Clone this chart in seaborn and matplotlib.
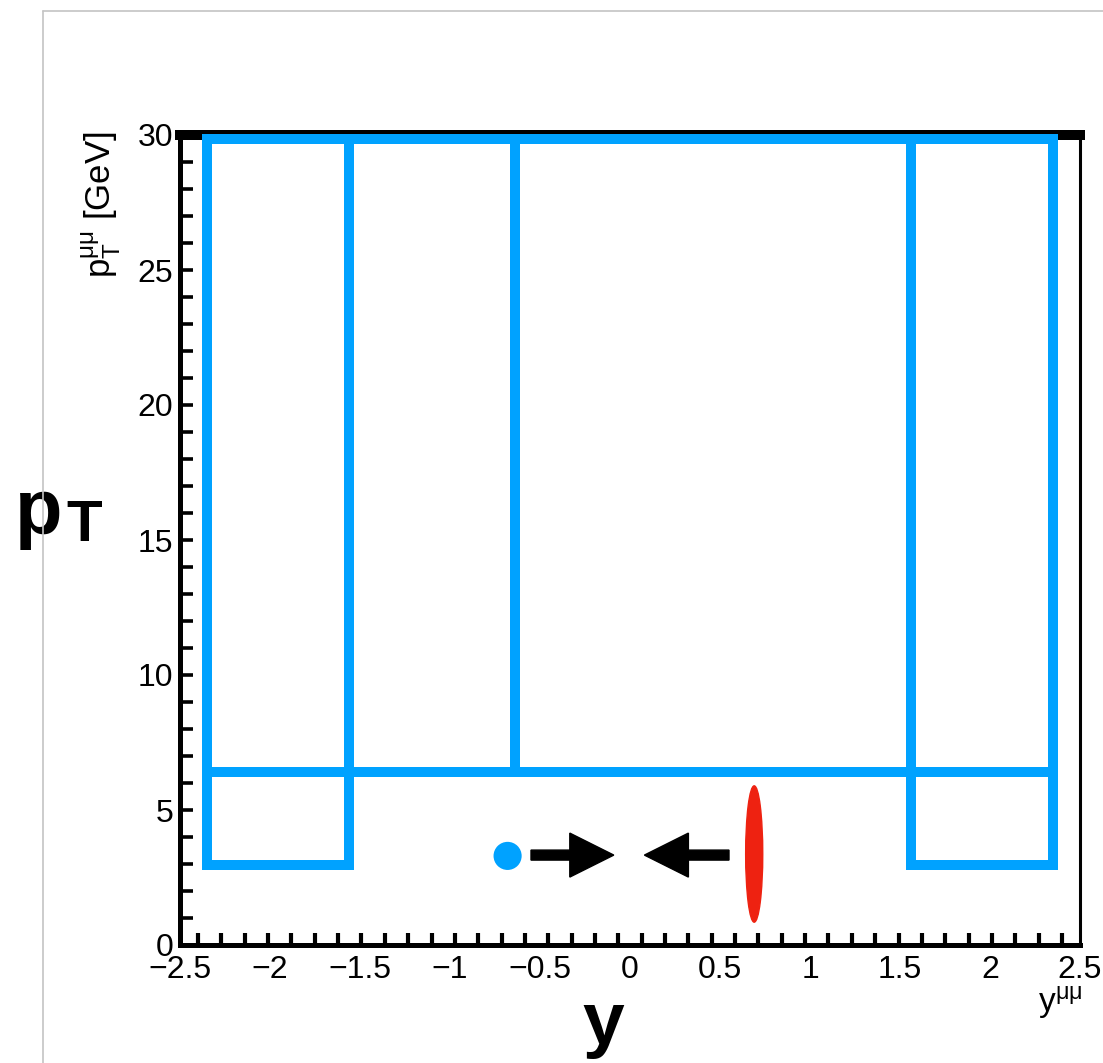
import numpy as np
import pandas as pd
import matplotlib
matplotlib.use("Agg")
import matplotlib.pyplot as plt
from matplotlib.patches import Rectangle, Ellipse, FancyArrow
from matplotlib.lines import Line2D
import seaborn as sns

# Analysis bins in (rapidity, transverse momentum)
cell_y_lo = [-2.35, 1.56, -2.35, -1.56, -0.64, 1.56]
cell_y_hi = [-1.56, 2.35, -1.56, -0.64, 1.56, 2.35]
cell_pt_lo = [2.95, 2.95, 6.4, 6.4, 6.4, 6.4]
cell_pt_hi = [6.4, 6.4, 29.85, 29.85, 29.85, 29.85]

# Collision sketch: projectile, arrows and Lorentz-contracted target
dot_y = [-0.68]
dot_pt = [3.3]
arrow_start = [-0.55, 0.55]
arrow_end = [-0.09, 0.08]
arrow_pt = 3.33
ellipse_center = (0.69, 3.37)
ellipse_size = (0.095, 5.05)

x_ticks = [-2.5, -2, -1.5, -1, -0.5, 0, 0.5, 1, 1.5, 2, 2.5]
x_ticklabels = ["\u22122.5", "\u22122", "\u22121.5", "\u22121", "\u22120.5", "0", "0.5", "1", "1.5", "2", "2.5"]
y_ticks = [0, 5, 10, 15, 20, 25, 30]

BLUE = "#00A2FF"
RED = "#EE2211"

sns.set_theme(style="white")
plt.rcParams["font.family"] = ["Liberation Sans", "DejaVu Sans"]
plt.rcParams["mathtext.fontset"] = "custom"
plt.rcParams["mathtext.rm"] = "Liberation Sans"
plt.rcParams["mathtext.it"] = "Liberation Sans"
plt.rcParams["mathtext.bf"] = "Liberation Sans:bold"

W, H = 1103, 1063
fig = plt.figure(figsize=(W / 100, H / 100), dpi=100)
fig.patch.set_facecolor("white")
ax = fig.add_axes([180 / W, 1 - 945 / H, 900 / W, 810 / H])
ax.set_facecolor("white")

ax.set_xlim(-2.5, 2.5)
ax.set_ylim(0, 30)

# Bin outlines
for x0, x1, p0, p1 in zip(cell_y_lo, cell_y_hi, cell_pt_lo, cell_pt_hi):
    ax.add_patch(Rectangle((x0, p0), x1 - x0, p1 - p0, fill=False,
                           edgecolor=BLUE, linewidth=7.2, joinstyle="miter",
                           zorder=3, clip_on=False))

# Incoming particle
pts = pd.DataFrame({"y": dot_y, "pt": dot_pt})
sns.scatterplot(data=pts, x="y", y="pt", s=410, color=BLUE, edgecolor="none",
                ax=ax, zorder=4, legend=False)

# Arrows pointing towards each other (sizes given in pixels, converted to data units)
px_x = 900 / 5.0
px_y = 810 / 30.0
for xs, xe in zip(arrow_start, arrow_end):
    ax.add_patch(FancyArrow(xs, arrow_pt, xe - xs, 0,
                            width=10 / px_y, head_width=44 / px_y,
                            head_length=44 / px_x, length_includes_head=True,
                            color="black", zorder=4))

# Nucleus
ax.add_patch(Ellipse(ellipse_center, ellipse_size[0], ellipse_size[1],
                     color=RED, zorder=4))

# Axes styling
ax.set_xticks(x_ticks)
ax.set_xticklabels(x_ticklabels)
ax.set_xticks(np.linspace(-2.4, 2.4, 38), minor=True)
ax.set_yticks(y_ticks)
ax.set_yticks(np.arange(0, 31, 1), minor=True)
ax.tick_params(axis="x", which="major", direction="in", length=0, pad=7,
               labelsize=23, colors="black")
ax.tick_params(axis="x", which="minor", direction="in", length=9, width=3,
               color="black", bottom=True)
ax.tick_params(axis="y", which="both", direction="in", length=9.5, width=2.6,
               color="black", left=True, pad=5, labelsize=23, labelcolor="black")
for lab in ax.get_xticklabels() + ax.get_yticklabels():
    lab.set_color("black")

for side, lw in [("left", 3.6), ("bottom", 3.6), ("top", 7.2), ("right", 2.2)]:
    ax.spines[side].set_visible(True)
    ax.spines[side].set_color("black")
    ax.spines[side].set_linewidth(lw)
ax.set_xlabel("")
ax.set_ylabel("")

# Axis titles in the detector-plot style
fig.text(101 / W, 1 - 131 / H, r"$\mathrm{p}_{\mathrm{T}}^{\mu\mu}$ [GeV]",
         rotation=90, ha="center", va="top", fontsize=25, color="black")
fig.text(1082 / W, 1 - 984 / H, r"$\mathrm{y}^{\mu\mu}$",
         ha="right", va="top", fontsize=24, color="black")

# Large slide labels
fig.text(15 / W, 1 - 534 / H, "p", fontsize=56, fontweight="bold",
         ha="left", va="baseline", color="black")
fig.text(66 / W, 1 - 541 / H, "T", fontsize=42, fontweight="bold",
         ha="left", va="baseline", color="black")
fig.text(603 / W, 1 - 1044 / H, "y", fontsize=54, fontweight="bold",
         ha="center", va="baseline", color="black")

# Thin page frame
frame_kw = dict(color="#C4C4C4", linewidth=1.2, zorder=10)
fig.add_artist(Line2D([43 / W, 43 / W], [0, 1 - 11 / H], transform=fig.transFigure, **frame_kw))
fig.add_artist(Line2D([43 / W, 1], [1 - 11 / H, 1 - 11 / H], transform=fig.transFigure, **frame_kw))

fig.savefig("out.png", dpi=100, facecolor="white")
